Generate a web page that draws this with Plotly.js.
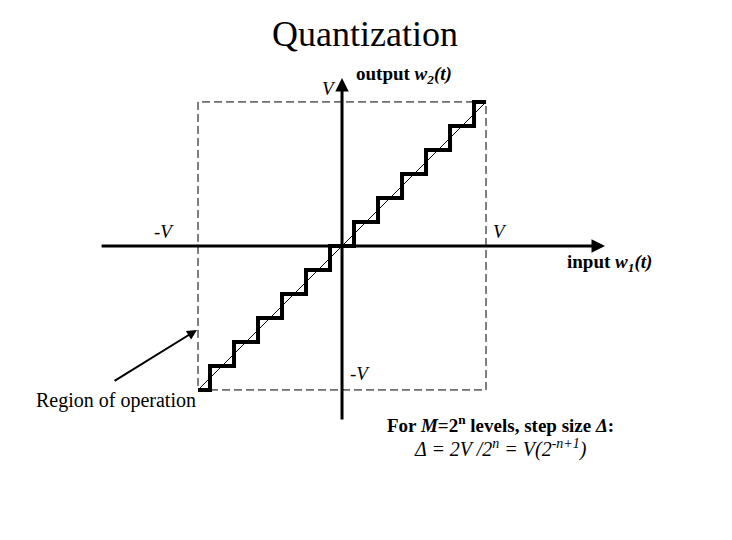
<!DOCTYPE html>
<html>
<head>
<meta charset="utf-8">
<script src="https://cdn.plot.ly/plotly-3.0.1.min.js"></script>
<style>html,body{margin:0;padding:0;background:#fff;}#chart{width:732px;height:540px;}</style>
</head>
<body>
<div id="chart"></div>
<script>
// Quantizer staircase (V = 1, 13 output levels, step size = 1/6)
const stepInput  = [-1, -11/12, -9/12, -7/12, -5/12, -3/12, -1/12, 1/12, 3/12, 5/12, 7/12, 9/12, 11/12, 1];
const stepOutput = [-1, -5/6, -4/6, -3/6, -2/6, -1/6, 0, 1/6, 2/6, 3/6, 4/6, 5/6, 1, 1];
const idealInput  = [-1, 1];
const idealOutput = [-1, 1];
const V = 1;

const FONT = "Liberation Serif, Times New Roman, serif";

const traces = [
  { x: idealInput, y: idealOutput, mode: 'lines', line: {color: '#000', width: 1}, hoverinfo: 'skip' },
  { x: stepInput, y: stepOutput, mode: 'lines', line: {color: '#000', width: 4, shape: 'hv'}, hoverinfo: 'skip' }
];

const ann = (x, y, text, opts) => Object.assign({x, y, xref: 'x', yref: 'y', text, showarrow: false,
  font: {family: FONT, size: 20, color: '#000'}}, opts || {});
const f = (size, weight) => ({family: FONT, size: size, color: '#000', weight: weight || 'normal'});

const layout = {
  width: 732, height: 540,
  margin: {l: 0, r: 0, t: 0, b: 0},
  paper_bgcolor: '#fff', plot_bgcolor: '#fff',
  showlegend: false,
  title: {text: 'Quantization', font: {family: FONT, size: 36, color: '#000'},
          x: 365/732, xanchor: 'center', y: 1 - 33/540, yanchor: 'middle'},
  xaxis: {range: [-2.375, 2.708], visible: false, fixedrange: true},
  yaxis: {range: [-2.042, 1.708], visible: false, fixedrange: true},
  shapes: [
    {type: 'rect', xref: 'x', yref: 'y', x0: -V, x1: V, y0: -V, y1: V,
     line: {color: '#000', width: 1, dash: '8px,4px'}}
  ],
  annotations: [
    // horizontal axis
    {x: 1.826, y: 0, ax: -1.68, ay: 0, xref: 'x', yref: 'y', axref: 'x', ayref: 'y',
     text: '', showarrow: true, arrowhead: 2, arrowsize: 0.9, arrowwidth: 3, arrowcolor: '#000'},
    // vertical axis
    {x: 0, y: 1.167, ax: 0, ay: -1.215, xref: 'x', yref: 'y', axref: 'x', ayref: 'y',
     text: '', showarrow: true, arrowhead: 2, arrowsize: 0.9, arrowwidth: 3, arrowcolor: '#000'},
    // region arrow
    {x: -1.007, y: -0.583, ax: -1.59, ay: -0.944, xref: 'x', yref: 'y', axref: 'x', ayref: 'y',
     text: '', showarrow: true, arrowhead: 2, arrowsize: 1, arrowwidth: 2, arrowcolor: '#000'},
    ann(-0.09, 1.09, '<i>V</i>', {font: f(19)}),
    ann(0.085, 1.19, 'output <i>w<sub>2</sub>(t)</i>', {xanchor: 'left', font: f(19, 'bold')}),
    ann(-1.236, 0.097, '-<i>V</i>', {font: f(19)}),
    ann(1.097, 0.097, '<i>V</i>', {font: f(19)}),
    ann(1.549, -0.118, 'input <i>w<sub>1</sub>(t)</i>', {xanchor: 'left', font: f(19, 'bold')}),
    ann(0.125, -0.889, '-<i>V</i>', {font: f(19)}),
    ann(-1.569, -1.076, 'Region of operation', {font: f(20)}),
    ann(0.299, -1.236, 'For <i>M</i>=2<sup>n</sup> levels, step size <i>Δ</i>:', {xanchor: 'left', font: f(19, 'bold')}),
    ann(0.486, -1.41, '<i>Δ = 2V /2<sup>n</sup> = V(2<sup>-n+1</sup>)</i>', {xanchor: 'left', font: f(20)})
  ]
};

Plotly.newPlot('chart', traces, layout, {staticPlot: true, displayModeBar: false});
</script>
</body>
</html>
